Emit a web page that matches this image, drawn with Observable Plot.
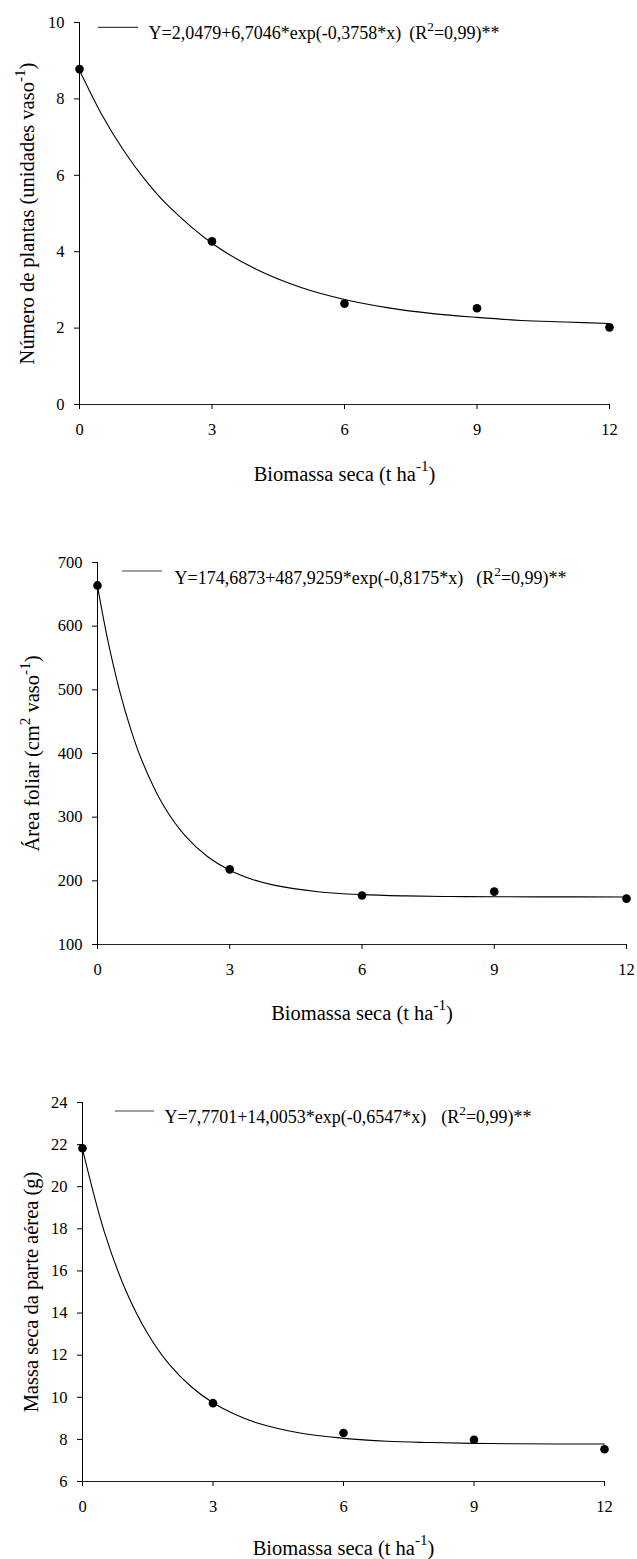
<!DOCTYPE html>
<html>
<head>
<meta charset="utf-8">
<script src="https://cdn.jsdelivr.net/npm/d3@7"></script>
<script src="https://cdn.jsdelivr.net/npm/@observablehq/plot@0.6"></script>
<style>
  html, body { margin: 0; padding: 0; background: #fff; }
  #wrap { width: 637px; }
  #wrap svg { display: block; }
</style>
</head>
<body>
<div id="wrap"></div>
<script>
// ---------- data ----------
const doses = [0, 3, 6, 9, 12];
const xTicks = [0, 3, 6, 9, 12];

// Panel 1: Número de plantas
const plantas = [8.78, 4.27, 2.64, 2.52, 2.02];
const fit1X = [0, 0.5, 1, 1.5, 2, 3, 4, 5, 6, 7, 8, 9, 10, 11, 12];
const fit1Y = [8.75, 7.60, 6.65, 5.86, 5.21, 4.22, 3.54, 3.07, 2.75, 2.53, 2.38, 2.28, 2.20, 2.16, 2.12];
const y1Ticks = [0, 2, 4, 6, 8, 10];

// Panel 2: Área foliar
const areaFoliar = [664, 218, 177, 183, 172];
const fit2X = [0, 0.25, 0.5, 0.75, 1, 1.5, 2, 2.5, 3, 3.5, 4, 5, 6, 7, 8, 9, 10, 12];
const fit2Y = [662.6, 572.4, 498.9, 439.0, 390.1, 317.8, 269.8, 237.9, 216.7, 202.6, 193.2, 182.9, 178.3, 176.3, 175.4, 175.0, 174.8, 174.7];
const y2Ticks = [100, 200, 300, 400, 500, 600, 700];

// Panel 3: Massa seca da parte aérea
const massaSeca = [21.83, 9.72, 8.30, 7.98, 7.53];
const fit3X = [0, 0.5, 1, 1.5, 2, 2.5, 3, 3.5, 4, 5, 6, 7, 8, 9, 10, 12];
const fit3Y = [21.78, 17.87, 15.05, 13.02, 11.55, 10.50, 9.74, 9.19, 8.79, 8.30, 8.05, 7.91, 7.85, 7.81, 7.79, 7.78];
const y3Ticks = [6, 8, 10, 12, 14, 16, 18, 20, 22, 24];

// text (with superscript parts)
const xTitle = [{t: "Biomassa seca (t ha"}, {t: "-1", sup: true}, {t: ")"}];
const yTitle1 = [{t: "Número de plantas (unidades vaso"}, {t: "-1", sup: true}, {t: ")"}];
const yTitle2 = [{t: "Área foliar (cm"}, {t: "2", sup: true}, {t: " vaso"}, {t: "-1", sup: true}, {t: ")"}];
const yTitle3 = [{t: "Massa seca da parte aérea (g)"}];
const eq1 = "Y=2,0479+6,7046*exp(-0,3758*x)";
const eq2 = "Y=174,6873+487,9259*exp(-0,8175*x)";
const eq3 = "Y=7,7701+14,0053*exp(-0,6547*x)";
const r2 = "=0,99)**";

// ---------- helpers ----------
const FONT = "'Liberation Serif', 'Times New Roman', Times, serif";
const plain = parts => parts.map(p => (p.dx ? " " : "") + p.t).join("");

function applyRich(el, parts, F) {
  el.textContent = "";
  let raised = false;
  for (const p of parts) {
    const ts = d3.select(el).append("tspan").text(p.t);
    if (p.dx) ts.attr("dx", p.dx);
    if (p.sup) {
      ts.attr("font-size", 0.74 * F);
      if (!raised) { ts.attr("dy", -0.44 * F); raised = true; }
    } else if (raised) {
      ts.attr("dy", 0.44 * F); raised = false;
    }
  }
}

function panel(cfg) {
  const pts = doses.map((x, i) => ({x, y: cfg.values[i]}));
  const fit = cfg.fitX.map((x, i) => ({x, y: cfg.fitY[i]}));
  const legendParts = [{t: cfg.eq}, {t: "(R", dx: cfg.gap}, {t: "2", sup: true}, {t: r2}];
  const svg = Plot.plot({
    width: 637,
    height: cfg.height,
    marginTop: cfg.mt, marginBottom: cfg.mb, marginLeft: cfg.ml, marginRight: cfg.mr,
    style: {fontFamily: FONT, fontSize: "16.5px", color: "#000", background: "#fff", overflow: "visible"},
    x: {domain: [0, 12]},
    y: {domain: cfg.yDomain},
    marks: [
      Plot.frame({anchor: "left", stroke: "#000"}),
      Plot.frame({anchor: "bottom", stroke: "#222"}),
      Plot.axisX({ticks: xTicks, tickSize: 5, tickPadding: 14, tickFormat: d => String(d), label: null, fontFamily: FONT}),
      Plot.axisY({ticks: cfg.yTicks, tickSize: 5, tickPadding: 10, tickFormat: d => String(d), label: null, fontFamily: FONT}),
      Plot.line(fit, {x: "x", y: "y", curve: "catmull-rom", stroke: "#000", strokeWidth: 1.1}),
      Plot.dot(pts, {x: "x", y: "y", r: 4.3, fill: "#000", stroke: "none"}),
      Plot.text([plain(xTitle)], {frameAnchor: "bottom", textAnchor: "middle", lineAnchor: "bottom", dy: cfg.xlabDy, fontSize: 20.5, fontFamily: FONT}),
      Plot.text([plain(cfg.yTitle)], {frameAnchor: "left", textAnchor: "middle", lineAnchor: "middle", rotate: -90, dx: cfg.ylabDx, fontSize: 20.5, fontFamily: FONT}),
      Plot.text([plain(legendParts)], {frameAnchor: "top-left", textAnchor: "start", lineAnchor: "bottom", dx: cfg.legDx, dy: cfg.legDy, fontSize: 18, fontFamily: FONT})
    ]
  });
  const rich = [
    {parts: xTitle, size: 20.5},
    {parts: cfg.yTitle, size: 20.5},
    {parts: legendParts, size: 18}
  ];
  d3.select(svg).selectAll("text").each(function () {
    const t = this.textContent;
    for (const r of rich) if (plain(r.parts) === t) { applyRich(this, r.parts, r.size); break; }
  });
  // legend sample line
  d3.select(svg).append("line")
    .attr("x1", cfg.ml + cfg.legLine[0]).attr("x2", cfg.ml + cfg.legLine[1])
    .attr("y1", cfg.mt + cfg.legLine[2]).attr("y2", cfg.mt + cfg.legLine[2])
    .attr("stroke", "#444").attr("stroke-width", 1.2);
  return svg;
}

const wrap = document.getElementById("wrap");
wrap.appendChild(panel({
  height: 500, mt: 22, mb: 96, ml: 79, mr: 28,
  yDomain: [0, 10], yTicks: y1Ticks, values: plantas, fitX: fit1X, fitY: fit1Y,
  yTitle: yTitle1, ylabDx: -52, xlabDy: 76,
  eq: eq1, gap: 8, legDx: 69, legDy: 16.5, legLine: [19, 59, 5.3]
}));
wrap.appendChild(panel({
  height: 520, mt: 62, mb: 76, ml: 97, mr: 11,
  yDomain: [100, 700], yTicks: y2Ticks, values: areaFoliar, fitX: fit2X, fitY: fit2Y,
  yTitle: yTitle2, ylabDx: -65, xlabDy: 75,
  eq: eq2, gap: 13, legDx: 77, legDy: 21, legLine: [25, 65, 9]
}));
wrap.appendChild(panel({
  height: 539, mt: 82, mb: 78, ml: 82, mr: 33,
  yDomain: [6, 24], yTicks: y3Ticks, values: massaSeca, fitX: fit3X, fitY: fit3Y,
  yTitle: yTitle3, ylabDx: -51, xlabDy: 73,
  eq: eq3, gap: 15, legDx: 82, legDy: 20, legLine: [33, 72, 9]
}));
</script>
</body>
</html>
